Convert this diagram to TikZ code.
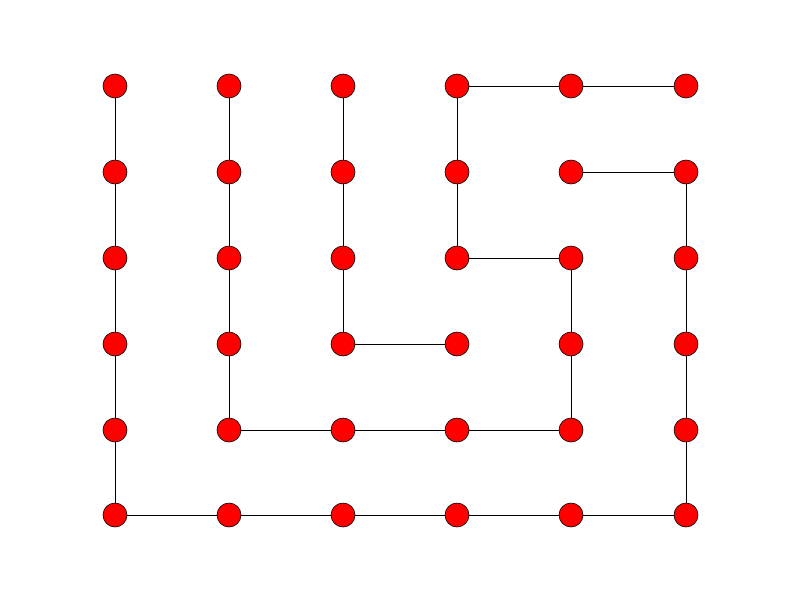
\documentclass[tikz,border=0pt]{standalone}
\begin{document}
\begin{tikzpicture}[x=1pt,y=-1pt,
  dot/.style={circle,draw=black,fill=red,line width=0.6pt,minimum size=24pt,inner sep=0pt},
  edge/.style={draw=black,line width=0.8pt}]
\useasboundingbox (0,0) rectangle (800,600);
\foreach \i/\x in {0/115,1/229,2/343,3/457,4/571,5/686}{
  \foreach \j/\y in {0/86,1/172,2/258,3/344,4/430,5/515}{
    \node[dot] (n\i\j) at (\x,\y) {};
  }
}
\foreach \a/\b in {
  n00/n01,n01/n02,n02/n03,n03/n04,n04/n05,
  n05/n15,n15/n25,n25/n35,n35/n45,n45/n55,
  n55/n54,n54/n53,n53/n52,n52/n51,n51/n41,
  n30/n40,n40/n50,
  n30/n31,n31/n32,n32/n42,n42/n43,n43/n44,
  n44/n34,n34/n24,n24/n14,
  n10/n11,n11/n12,n12/n13,n13/n14,
  n20/n21,n21/n22,n22/n23,n23/n33}
  \draw[edge] (\a) -- (\b);
\end{tikzpicture}
\end{document}
